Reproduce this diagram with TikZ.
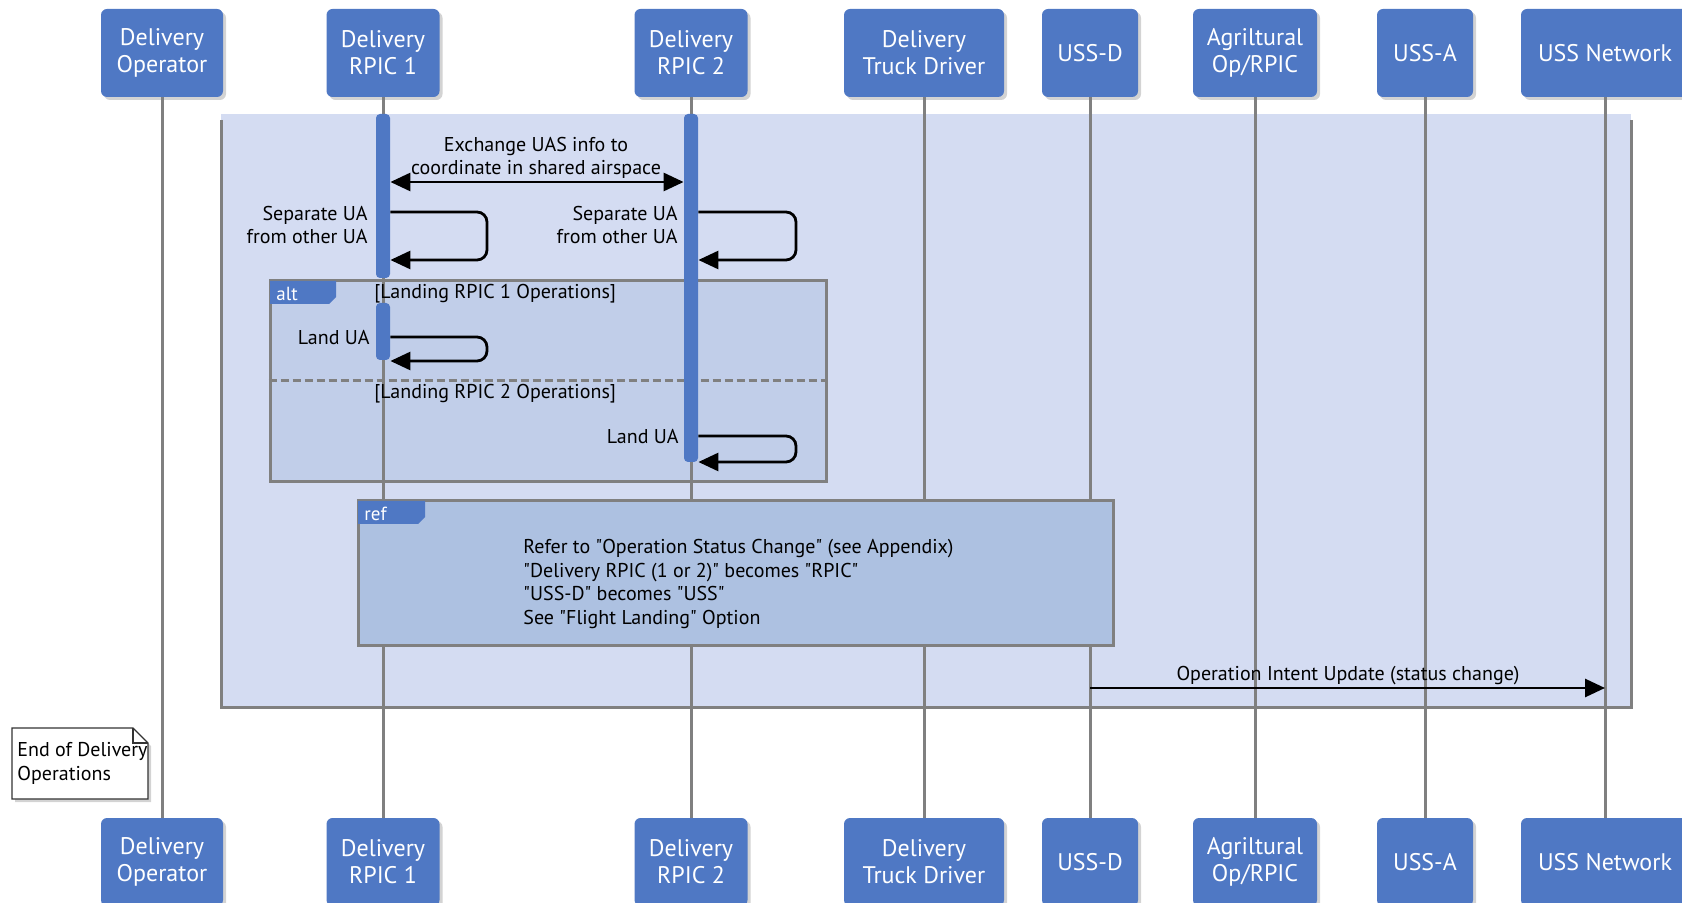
\documentclass[tikz,border=0pt]{standalone}
\usepackage{fontspec}
\setmainfont{PT Sans}
\usetikzlibrary{positioning, arrows.meta, shadows}

\definecolor{boxblue}{RGB}{79,120,196}
\definecolor{framefill}{RGB}{212,220,242}
\definecolor{altfill}{RGB}{193,206,233}
\definecolor{reffill}{RGB}{173,193,225}
\definecolor{lineGray}{RGB}{128,128,128}
\newcommand{\qmark}{\textquotedbl}

\begin{document}
\begin{tikzpicture}
        [
            x=0.5pt, y=-0.5pt,
            actor/.style = {fill=boxblue, text=white, rounded corners=3pt, align=center,
                minimum height=44pt, inner sep=0pt, font=\fontsize{12}{13.5}\selectfont,
                drop shadow={opacity=0.35, shadow xshift=1.5pt, shadow yshift=-1.5pt}},
            bar/.style = {fill=boxblue, rounded corners=2pt, minimum width=7pt, inner sep=0pt},
            lifeline/.style = {draw=lineGray, line width=1.5pt},
            frag/.style = {draw=lineGray, line width=1.5pt},
            altbox/.style = {frag, fill=altfill, inner sep=0pt},
            refbox/.style = {frag, fill=reffill, inner sep=0pt},
            tab/.style = {fill=boxblue},
            tagtext/.style = {text=white, inner sep=0pt, font=\fontsize{9.5}{11}\selectfont},
            msgtext/.style = {inner sep=1pt, font=\fontsize{10}{11.75}\selectfont},
            msg/.style = {->, black, line width=1.4pt},
            notebox/.style = {draw=black!80, line width=0.7pt, fill=white},
            >={Triangle[length=10pt, width=9pt]}
        ]%
        \useasboundingbox (0,0) rectangle (1682,903);
        % combined fragment round the whole exchange
        \fill[framefill] (221,114) rectangle (1631,707);
        \draw[frag] (221,120) -- (221,707) -- (1631,707) -- (1631,120);
        \node[altbox, minimum width=278pt, minimum height=100.5pt] (alt) at (548,381.5) {};
        % participants, heads and feet
        \foreach \id/\xx/\w/\txt in {op/162/61/{Delivery\\Operator}, rpic1/383/56.5/{Delivery\\RPIC 1},
            rpic2/691/56.5/{Delivery\\RPIC 2}, truck/924/80/{Delivery\\Truck Driver}, ussd/1090/48/{USS-D},
            agri/1255/62/{Agriltural\\Op/RPIC}, ussa/1425/48/{USS-A}, net/1605/84/{USS Network}}
        {
            \node[actor, minimum width=\w pt] (\id) at (\xx,53) {\txt};
            \node[actor, minimum width=\w pt] (\id2) at (\xx,862) {\txt};
            \draw[lifeline] (\id) -- (\id2);
        }
        % alt fragment
        \coordinate (altdiv) at (548,381);
        \draw[frag, dash pattern=on 4pt off 2pt] (alt.west |- altdiv) -- (alt.east |- altdiv);
        \fill[tab] ([shift={(1.5,1.5)}]alt.north west) -- ++(66,0) -- ++(0,16) -- ++(-7,7) -- ++(-59,0) -- cycle;
        \node[tagtext, anchor=west] (alttag) at (276,294) {alt};
        \node[msgtext, anchor=west] (guard1) at (372,294) {[Landing RPIC 1 Operations]};
        \node[msgtext, anchor=west] (guard2) at (372,394) {[Landing RPIC 2 Operations]};
        % ref fragment
        \node[refbox, minimum width=377.5pt, minimum height=72pt] (ref) at (735.5,573) {};
        \fill[tab] ([shift={(1.5,1.5)}]ref.north west) -- ++(67,0) -- ++(0,16) -- ++(-7,7) -- ++(-60,0) -- cycle;
        \node[tagtext, anchor=west] (reftag) at (364,514) {ref};
        \node[msgtext, anchor=west, align=left] (reftxt) at (521,584)
            {Refer to \qmark Operation Status Change\qmark{} (see Appendix)\\
             \qmark Delivery RPIC (1 or 2)\qmark{} becomes \qmark RPIC\qmark\\
             \qmark USS-D\qmark{} becomes \qmark USS\qmark\\
             See \qmark Flight Landing\qmark{} Option};
        % activations
        \node[bar, minimum height=82pt] (bar1) at (383,196) {};
        \node[bar, minimum height=28.5pt] (bar2) at (383,331.5) {};
        \node[bar, minimum height=174pt] (bar3) at (691,288) {};
        % messages
        \coordinate (xchg) at (536,182);
        \draw[msg, <->] (bar1.east |- xchg) -- (bar3.west |- xchg);
        \node[msgtext, align=center] (xchgtxt) at (536,158) {Exchange UAS info to\\coordinate in shared airspace};
        \coordinate (sep1) at (487,212);
        \coordinate (sep1b) at (487,260);
        \draw[msg, rounded corners=5pt] (bar1.east |- sep1) -- (sep1) -- (sep1b) -- (bar1.east |- sep1b);
        \node[msgtext, anchor=east, align=right] (sep1txt) at (370,225) {Separate UA\\from other UA};
        \coordinate (sep2) at (796,212);
        \coordinate (sep2b) at (796,260);
        \draw[msg, rounded corners=5pt] (bar3.east |- sep2) -- (sep2) -- (sep2b) -- (bar3.east |- sep2b);
        \node[msgtext, anchor=east, align=right] (sep2txt) at (680,225) {Separate UA\\from other UA};
        \coordinate (land1) at (487,337);
        \coordinate (land1b) at (487,361);
        \draw[msg, rounded corners=5pt] (bar2.east |- land1) -- (land1) -- (land1b) -- (bar2.east |- land1b);
        \node[msgtext, anchor=east] (land1txt) at (372,338) {Land UA};
        \coordinate (land2) at (796,436);
        \coordinate (land2b) at (796,462);
        \draw[msg, rounded corners=5pt] (bar3.east |- land2) -- (land2) -- (land2b) -- (bar3.east |- land2b);
        \node[msgtext, anchor=east] (land2txt) at (681,437) {Land UA};
        \coordinate (upd) at (1348,688);
        \draw[msg] (ussd |- upd) -- (net |- upd);
        \node[msgtext] (updtxt) at (1348,676) {Operation Intent Update (status change)};
        % note
        \draw[notebox, drop shadow={opacity=0.35, shadow xshift=1.5pt, shadow yshift=-1.5pt}]
            (12,728) -- (133,728) -- (148,743) -- (148,799) -- (12,799) -- cycle;
        \draw[notebox, fill=none] (133,728) -- (133,743) -- (148,743);
        \node[msgtext, anchor=west, align=left] (endnote) at (15,763.5) {End of Delivery\\Operations};
        \end{tikzpicture}
\end{document}
